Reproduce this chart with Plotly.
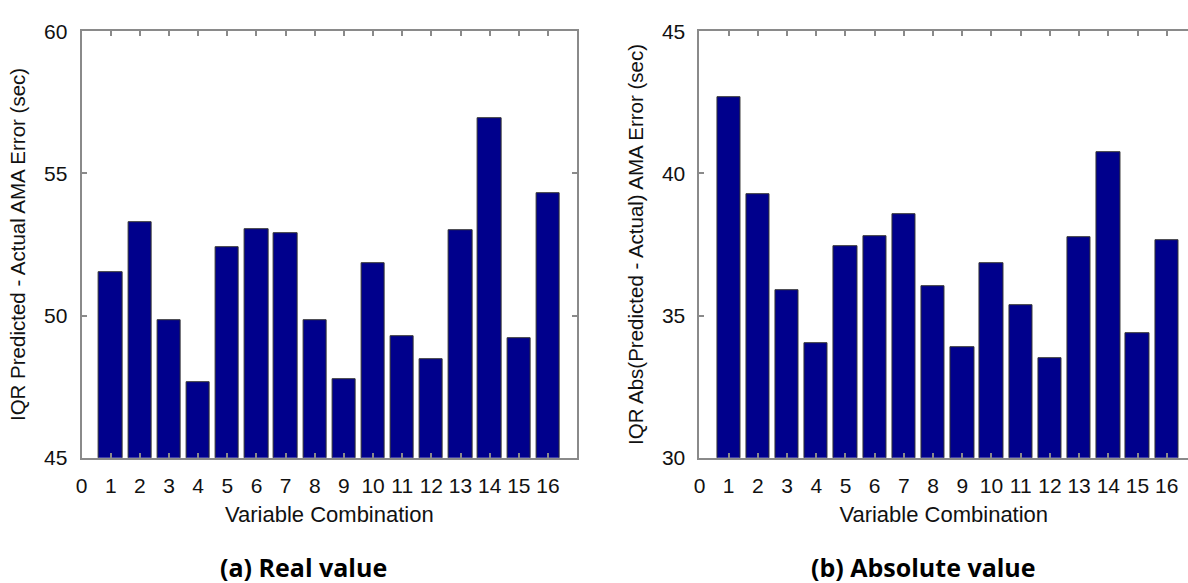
import plotly.graph_objects as go

combos = list(range(1, 17))
tick_vals = list(range(0, 17))
real_vals = [51.52, 53.29, 49.83, 47.64, 52.39, 53.05, 52.89, 49.83,
             47.76, 51.84, 49.28, 48.47, 53.01, 56.94, 49.20, 54.29]
abs_vals = [42.69, 39.26, 35.90, 34.04, 37.43, 37.80, 38.56, 36.02,
            33.87, 36.85, 35.36, 33.50, 37.76, 40.74, 34.38, 37.65]
real_yticks = [45, 50, 55, 60]
abs_yticks = [30, 35, 40, 45]

W, H = 1188, 583
bar_color = "#00008C"
axis_color = "#8a8a8a"
tick_font = dict(family="Liberation Sans, Arial", size=21, color="#111")
xtitle_font = dict(family="Liberation Sans, Arial", size=22, color="#111")
ytitle_font = dict(family="Liberation Sans, Arial", size=20.5, color="#111")

fig = go.Figure()
fig.add_trace(go.Bar(x=combos, y=real_vals, width=0.8, marker_color=bar_color,
                     marker_line=dict(color="#333", width=1),
                     xaxis="x", yaxis="y", showlegend=False))
fig.add_trace(go.Bar(x=combos, y=abs_vals, width=0.8, marker_color=bar_color,
                     marker_line=dict(color="#333", width=1),
                     xaxis="x2", yaxis="y2", showlegend=False))

def xax(domain, rng, anchor, mirror):
    return dict(domain=domain, range=rng, anchor=anchor, tickmode="array",
                tickvals=tick_vals, ticktext=[str(v) for v in tick_vals],
                ticks="inside", ticklen=5, tickcolor=axis_color, tickwidth=1.5,
                showline=True, linecolor=axis_color, linewidth=2, mirror=mirror,
                showgrid=False, zeroline=False, tickfont=tick_font,
                ticklabelstandoff=8,
                title=dict(text="Variable Combination", font=xtitle_font, standoff=11))

def yax(domain, rng, anchor, ticks, title, mirror):
    return dict(domain=domain, range=rng, anchor=anchor, tickmode="array",
                tickvals=ticks, ticks="inside", ticklen=5, tickcolor=axis_color,
                tickwidth=1.5, showline=True, linecolor=axis_color, linewidth=2,
                mirror=mirror, showgrid=False, zeroline=False, tickfont=tick_font,
                ticklabelstandoff=8,
                title=dict(text=title, font=ytitle_font, standoff=13))

ydom = [(H - 464) / H, (H - 20) / H]
fig.update_layout(
    width=W, height=H, margin=dict(l=0, r=0, t=0, b=0),
    paper_bgcolor="white", plot_bgcolor="white", bargap=0,
    xaxis=xax([76 / W, 574 / W], [0, 17], "y", "ticks"),
    yaxis=yax(ydom, [45, 60], "x", real_yticks,
              "IQR Predicted - Actual AMA Error (sec)", "ticks"),
    xaxis2=xax([697 / W, 1.0], [0, (W - 697) / 29.35], "y2", "ticks"),
    yaxis2=yax(ydom, [30, 45], "x2", abs_yticks,
               "IQR Abs(Predicted - Actual) AMA Error (sec)", False),
    annotations=[
        dict(text="<b>(a) Real value</b>", x=299 / W, y=(H - 578) / H,
             xref="paper", yref="paper", xanchor="center", yanchor="middle",
             showarrow=False, font=dict(family="Open Sans", size=25, color="#000")),
        dict(text="<b>(b) Absolute value</b>", x=922 / W, y=(H - 578) / H,
             xref="paper", yref="paper", xanchor="center", yanchor="middle",
             showarrow=False, font=dict(family="Open Sans", size=25, color="#000")),
    ],
)

fig.write_html("out.html")
